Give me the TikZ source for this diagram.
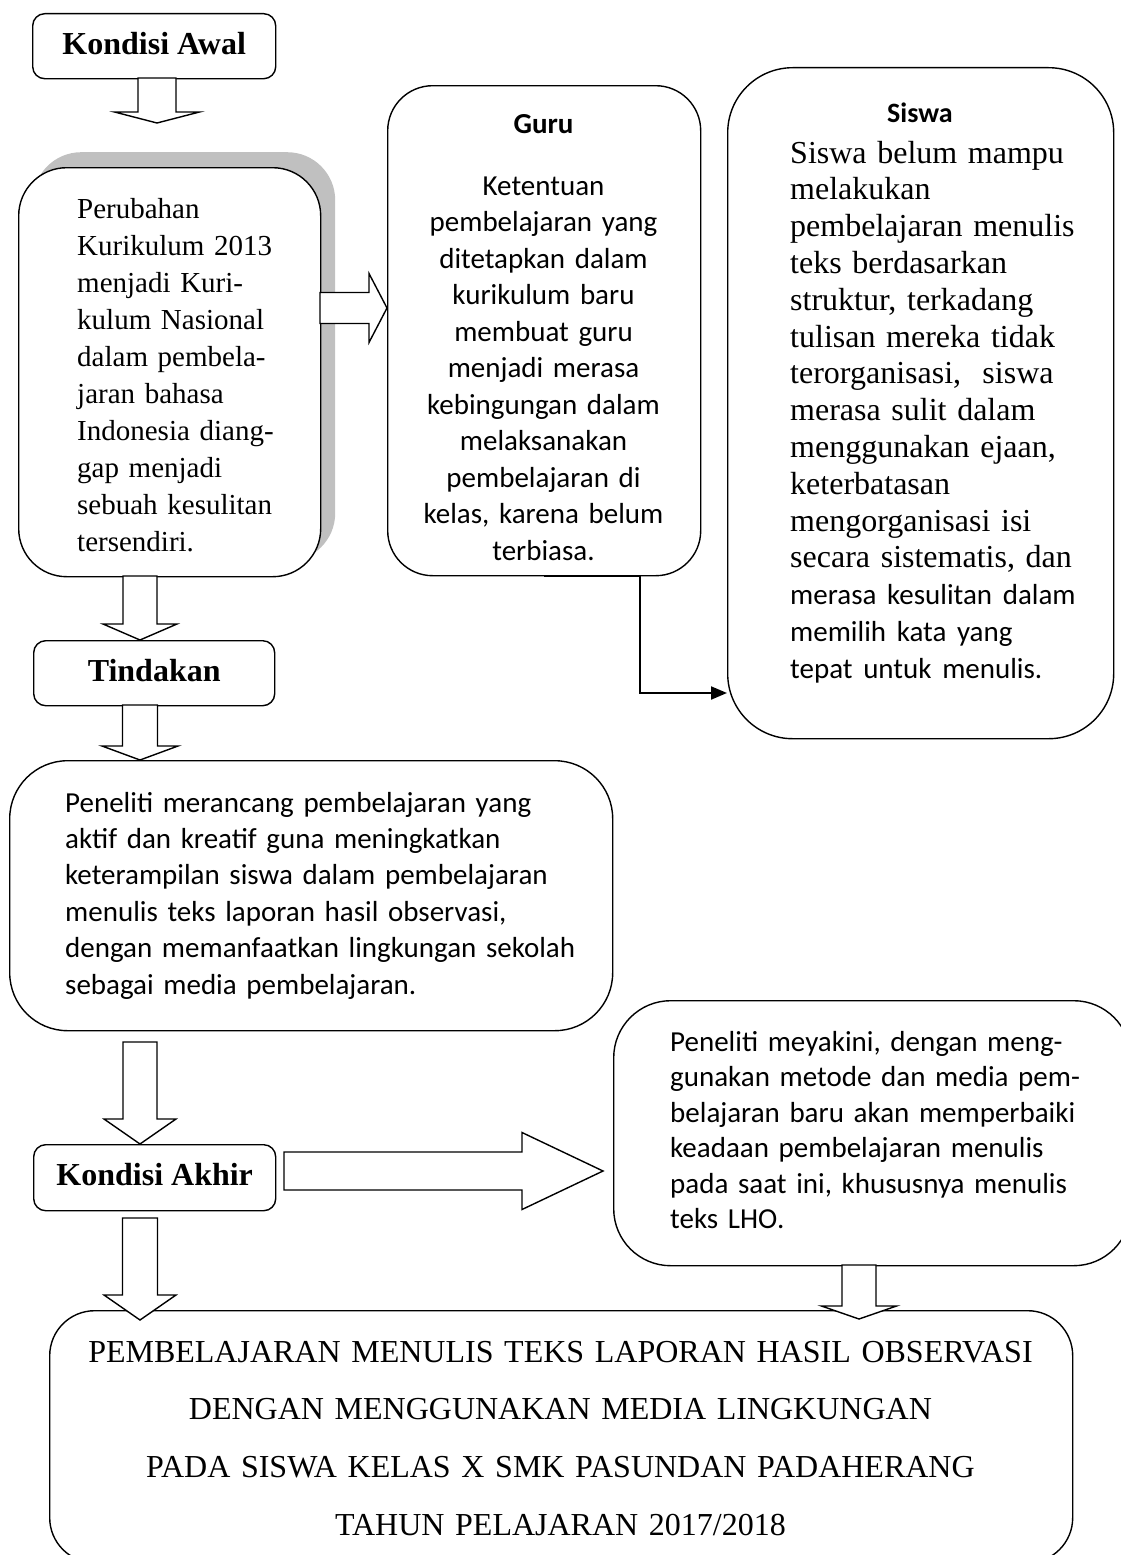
\documentclass[tikz,border=0pt]{standalone}
\usepackage{fontspec}
\setmainfont{Liberation Serif}
\newfontfamily\calfont{Carlito}
\usetikzlibrary{arrows.meta}
% vertical block arrow: xc, ytop, ytip, half shaft, half head, head length
\newcommand\blkD[6]{\draw[blk] ({#1-#4},#2) -- ({#1-#4},{#3-#6}) -- ({#1-#5},{#3-#6}) -- (#1,#3) -- ({#1+#5},{#3-#6}) -- ({#1+#4},{#3-#6}) -- ({#1+#4},#2) -- cycle;}
% horizontal block arrow: yc, xleft, xtip, half shaft, half head, head length
\newcommand\blkR[6]{\draw[blk] (#2,{#1-#4}) -- ({#3-#6},{#1-#4}) -- ({#3-#6},{#1-#5}) -- (#3,#1) -- ({#3-#6},{#1+#5}) -- ({#3-#6},{#1+#4}) -- (#2,{#1+#4}) -- cycle;}
\definecolor{shadowgray}{RGB}{192,192,192}
\begin{document}
\begin{tikzpicture}[x=1pt,y=-1pt,
  rbox/.style={draw=black, line width=1.4pt, fill=white, inner sep=0pt, anchor=north west},
  hdr/.style={font=\bfseries\fontsize{32}{36}\selectfont, text height=23pt, text depth=7pt},
  blk/.style={draw=black, line width=1.4pt, fill=white, line join=miter},
  conn/.style={draw=black, line width=2pt, -{Triangle[length=16pt,width=13pt]}},
  cal/.style={font=\calfont\fontsize{29}{#1}\selectfont, inner sep=0pt},
  tnr/.style={font=\fontsize{29}{#1}\selectfont, inner sep=0pt},
  tnrb/.style={font=\fontsize{32}{#1}\selectfont, inner sep=0pt}]
\useasboundingbox (0,0) rectangle (1121,1555);

% ---------- boxes ----------
\node[rbox, rounded corners=12pt, minimum width=243pt, minimum height=65pt, hdr] (kawal) at (32,13) {Kondisi Awal};

\node[fill=shadowgray, inner sep=0pt, anchor=north west, rounded corners=48pt, minimum width=302pt, minimum height=409pt] (shadow) at (33,152) {};
\node[rbox, rounded corners=48pt, minimum width=302pt, minimum height=409pt] (perub) at (18,167) {};

\node[rbox, rounded corners=45pt, minimum width=313pt, minimum height=490pt] (guru) at (387,85) {};
\node[rbox, rounded corners=65pt, minimum width=386pt, minimum height=671pt] (siswa) at (727,67) {};

\node[rbox, rounded corners=12pt, minimum width=241pt, minimum height=65pt, hdr] (tind) at (33,640) {Tindakan};

\node[rbox, rounded corners=58pt, minimum width=603pt, minimum height=270pt] (peneliti) at (9,760) {};

\node[rbox, rounded corners=12pt, minimum width=242pt, minimum height=66pt, hdr] (kakhir) at (33,1144) {Kondisi Akhir};

\node[rbox, rounded corners=57pt, minimum width=517pt, minimum height=265pt] (yakin) at (613,1000) {};

\node[rbox, rounded corners=45pt, minimum width=1023pt, minimum height=252pt] (judul) at (49,1310) {};

% ---------- texts ----------
\node[tnr=37, anchor=base west, text width=240pt, align=left] (perubtxt) at (77,218)
  {Perubahan\\Kurikulum 2013\\menjadi Kuri-\\kulum Nasional\\dalam pembela-\\jaran bahasa\\Indonesia diang-\\gap menjadi\\sebuah kesulitan\\tersendiri.};

\node[font=\calfont\bfseries\fontsize{29}{34}\selectfont, inner sep=0pt, anchor=base] (guruhd) at (543.5,133) {Guru};
\node[cal=36.5, anchor=base, text width=300pt, align=center] (gurutxt) at (543.5,195)
  {Ketentuan\\pembelajaran yang\\ditetapkan dalam\\kurikulum baru\\membuat guru\\menjadi merasa\\kebingungan dalam\\melaksanakan\\pembelajaran di\\kelas, karena belum\\terbiasa.};

\node[font=\calfont\bfseries\fontsize{28}{34}\selectfont, inner sep=0pt, anchor=base] (siswahd) at (920,122) {Siswa};
\node[tnrb=36.8, anchor=base west, text width=318pt, align=left] (siswatxt) at (790,163)
  {Siswa belum mampu\\melakukan\\pembelajaran menulis\\teks berdasarkan\\struktur, terkadang\\tulisan mereka tidak\\terorganisasi,~ siswa\\merasa sulit dalam\\menggunakan ejaan,\\keterbatasan\\mengorganisasi isi\\secara sistematis, dan\par
   \calfont\fontsize{29}{36.8}\selectfont merasa kesulitan dalam\\memilih kata yang\\tepat untuk menulis.};

\node[cal=36.4, anchor=base west, text width=540pt, align=left] (penelititxt) at (65,812)
  {Peneliti merancang pembelajaran yang\\aktif dan kreatif guna meningkatkan\\keterampilan siswa dalam pembelajaran\\menulis teks laporan hasil observasi,\\dengan memanfaatkan lingkungan sekolah\\sebagai media pembelajaran.};

\node[cal=35.5, anchor=base west, text width=440pt, align=left] (yakintxt) at (670,1051)
  {Peneliti meyakini, dengan meng-\\gunakan metode dan media pem-\\belajaran baru akan memperbaiki\\keadaan pembelajaran menulis\\pada saat ini, khususnya menulis\\teks LHO.};

\node[tnrb=57.7, anchor=base, text width=1000pt, align=center] (judultxt) at (560.5,1362)
  {PEMBELAJARAN MENULIS TEKS LAPORAN HASIL OBSERVASI\\DENGAN MENGGUNAKAN MEDIA LINGKUNGAN\\PADA SISWA KELAS X SMK PASUNDAN PADAHERANG\\TAHUN PELAJARAN 2017/2018};

% ---------- block arrows ----------
\blkD{157}{78}{123}{19}{42.5}{11}
\blkD{140}{576}{640}{17}{37}{16}
\blkD{140}{705}{760}{17.5}{38}{14}
\blkD{140}{1042}{1144}{17}{36}{25}
\blkD{140}{1218}{1320}{17.5}{36}{25}
\blkD{859}{1265}{1319}{17}{37.5}{13}
\blkR{308}{320}{387}{15.5}{34.5}{18}
\blkR{1171}{284}{603}{19}{38.5}{81}

% ---------- elbow connector ----------
\coordinate (elb) at (640,693);
\draw[conn] (guru.south) -- (guru.south -| elb) -- (elb) -- (elb -| siswa.west);
\end{tikzpicture}
\end{document}
